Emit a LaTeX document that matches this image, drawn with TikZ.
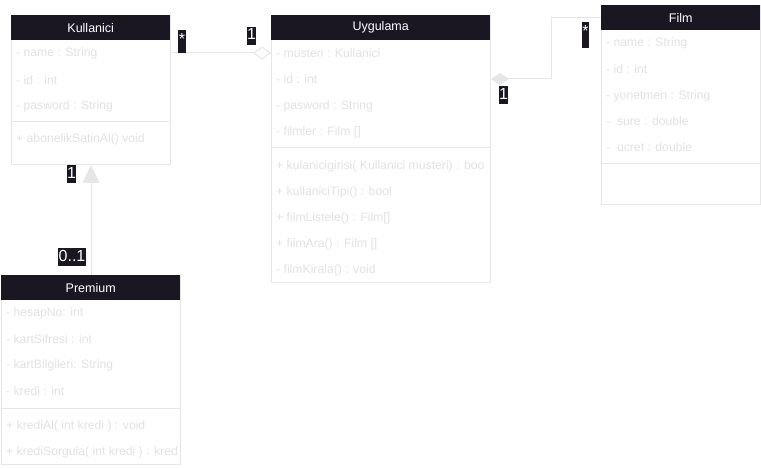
\documentclass[tikz,border=0pt]{standalone}
\usepackage{fontspec}
\setmainfont{Liberation Sans}
\usetikzlibrary{arrows.meta,calc}
\definecolor{hdr}{HTML}{1A1722}
\definecolor{faint}{HTML}{E2E2E2}
\definecolor{edge}{HTML}{E6E6E6}
\tikzset{
  classbox/.style={draw=edge, fill=white, inner sep=0pt, line width=1pt, anchor=north west},
  hdrbox/.style={fill=hdr, inner sep=0pt, text=white, anchor=north west, font=\fontsize{12.5}{14}\selectfont},
  attr/.style={anchor=west, inner sep=0pt, text=faint, font=\fontsize{12.2}{14}\selectfont},
  divider/.style={draw=edge, line width=1pt},
  mult/.style={fill=hdr, text=white, inner xsep=0.4pt, inner ysep=1pt, font=\fontsize{16}{18}\selectfont, text height=12pt, text depth=4pt},
  starmult/.style={mult, text height=13pt, text depth=8pt},
  conn/.style={draw=edge, line width=1pt}
}
\begin{document}
\begin{tikzpicture}[x=1pt,y=-1pt]
\useasboundingbox[fill=white] (0,0) rectangle (761,468);

% Kullanici
\node[classbox, minimum width=159pt, minimum height=149pt] (kul) at (11,15) {};
\node[hdrbox, minimum width=159pt, minimum height=25pt] (kulh) at (11,15) {Kullanici};
\node[attr] (kul1) at (16,53) {- name : String};
\node[attr] (kul2) at (16,80) {- id : int};
\node[attr] (kul3) at (16,106) {- pasword : String};
\draw[divider] (kul.west |- 0,122) -- (kul.east |- 0,122);
\node[attr] (kul4) at (16,139) {+ abonelikSatinAl() void};

% Uygulama
\node[classbox, minimum width=219pt, minimum height=267pt] (uyg) at (271,15) {};
\node[hdrbox, minimum width=219pt, minimum height=25pt] (uygh) at (271,15) {Uygulama};
\begin{scope}
\clip (uyg.north west) rectangle ([xshift=-1pt]uyg.south east);
\node[attr] (uyg1) at (276,53) {- musteri : Kullanici};
\node[attr] (uyg2) at (276,79) {- id : int};
\node[attr] (uyg3) at (276,106) {- pasword : String};
\node[attr] (uyg4) at (276,132) {- filmler : Film []};
\node[attr] (uyg5) at (276,166) {+ kulanicigirisi( Kullanici musteri) : boo};
\node[attr] (uyg6) at (276,192) {+ kullaniciTipi() : bool};
\node[attr] (uyg7) at (276,218) {+ filmListele() : Film[]};
\node[attr] (uyg8) at (276,244) {+ filmAra() : Film []};
\node[attr] (uyg9) at (276,270) {- filmKirala() : void};
\end{scope}
\draw[divider] (uyg.west |- 0,148) -- (uyg.east |- 0,148);

% Film
\node[classbox, minimum width=159pt, minimum height=199pt] (film) at (601,5) {};
\node[hdrbox, minimum width=159pt, minimum height=25pt] (filmh) at (601,5) {Film};
\node[attr] (film1) at (606,43) {- name : String};
\node[attr] (film2) at (606,69) {- id : int};
\node[attr] (film3) at (606,96) {- yonetmen : String};
\node[attr] (film4) at (606,121) {-\ \ sure : double};
\node[attr] (film5) at (606,147) {-\ \ ucret : double};
\draw[divider] (film.west |- 0,164) -- (film.east |- 0,164);

% Premium
\node[classbox, minimum width=179pt, minimum height=189pt] (prem) at (1,275) {};
\node[hdrbox, minimum width=179pt, minimum height=25pt] (premh) at (1,275) {Premium};
\begin{scope}
\clip (prem.north west) rectangle ([xshift=-1pt]prem.south east);
\node[attr] (prem1) at (6,313) {- hesapNo: int};
\node[attr] (prem2) at (6,339) {- kartSifresi : int};
\node[attr] (prem3) at (6,365) {- kartBilgileri: String};
\node[attr] (prem4) at (6,391) {- kredi : int};
\node[attr] (prem5) at (6,426) {+ krediAl( int kredi ) : void};
\node[attr] (prem6) at (6,452) {+ krediSorgula( int kredi ) : kred};
\end{scope}
\draw[divider] (prem.west |- 0,408) -- (prem.east |- 0,408);

% connectors
\draw[conn, -{Diamond[fill=white, length=18pt, width=13pt]}] (kul.east |- kul1.west) -- (uyg.west |- kul1.west);
\draw[conn, {Diamond[fill=edge, length=18pt, width=12pt]}-] (uyg.east |- uyg2.west) -- ++(60,0) |- (film.west |- filmh.center);
\draw[conn, -{Triangle[fill=edge, length=18pt, width=17pt]}] (prem.north) -- (kul.south);

% multiplicities
\node[starmult] (m1) at (182,42) {*};
\node[mult] (m2) at (251.5,36) {1};
\node[starmult, text depth=11pt] (m3) at (585.5,35.5) {*};
\node[mult] (m4) at (503.5,95.5) {1};
\node[mult] (m5) at (71.5,174.5) {1};
\node[mult] (m6) at (72,257) {0..1};
\end{tikzpicture}
\end{document}
